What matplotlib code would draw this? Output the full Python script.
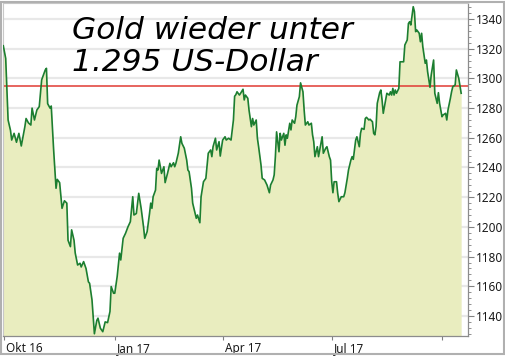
import numpy as np
import pandas as pd
import matplotlib
matplotlib.use('Agg')
import matplotlib.pyplot as plt
from matplotlib.ticker import MultipleLocator
from matplotlib.patches import Rectangle
import matplotlib.transforms as mtransforms

# Goldpreis in USD, Tage seit 1.10.2016
start = pd.Timestamp('2016-10-01')
days = [-1, 1, 3, 5, 6, 8, 10, 12, 14, 17, 18, 20, 22, 23, 25, 27, 29, 31, 34, 35,
        36, 38, 39, 41, 43, 44, 46, 48, 50, 52, 53, 55, 56, 58, 59, 61, 63, 64, 66, 68,
        70, 71, 73, 75, 77, 78, 80, 82, 84, 86, 88, 89, 91, 92, 94, 96, 97, 99, 101, 103,
        105, 107, 108, 110, 112, 114, 116, 117, 119, 121, 122, 123, 124, 126, 127, 128, 129, 131, 133, 134,
        136, 138, 139, 141, 142, 143, 145, 147, 148, 150, 152, 153, 154, 156, 157, 159, 160, 161, 163, 164,
        166, 168, 170, 172, 173, 174, 176, 177, 179, 180, 182, 184, 185, 187, 189, 191, 192, 193, 194, 196,
        197, 199, 200, 201, 203, 204, 206, 207, 208, 210, 211, 212, 214, 215, 217, 219, 221, 222, 224, 225,
        226, 227, 229, 230, 231, 233, 234, 235, 236, 238, 239, 240, 242, 243, 244, 246, 247, 249, 250, 251,
        253, 254, 256, 257, 258, 259, 261, 262, 264, 265, 266, 268, 269, 271, 272, 273, 274, 275, 277, 278,
        279, 281, 283, 284, 286, 287, 289, 290, 291, 293, 294, 296, 297, 298, 300, 301, 302, 304, 305, 307,
        308, 309, 310, 311, 313, 314, 315, 316, 318, 319, 321, 322, 323, 324, 325, 326, 327, 329, 330, 331,
        333, 334, 336, 337, 338, 339, 341, 342, 343, 344, 346, 347, 348, 349, 351, 352, 353, 355, 356, 358,
        359, 361, 362, 363, 365, 366, 368, 369, 370, 372, 373, 374, 376, 377, 379, 381]
gold = [1322, 1313.5, 1272, 1265, 1258.5, 1263, 1257, 1263, 1254.5, 1267.5, 1273, 1270, 1268.6, 1280, 1272, 1278.7, 1281, 1299, 1305.7, 1306.8,
        1283, 1280, 1281.4, 1251.8, 1226, 1232, 1229.8, 1212.5, 1217.6, 1216, 1191, 1186.7, 1198, 1191, 1182.4, 1174.3, 1175.5, 1173, 1176.6, 1172,
        1163, 1162, 1150.8, 1128, 1137, 1138.5, 1131.7, 1129.4, 1136, 1135.5, 1143, 1159.8, 1155.3, 1155.3, 1166.5, 1182.3, 1177.7, 1192.3, 1195.7, 1200,
        1203.5, 1220.3, 1208, 1209, 1222.6, 1212.5, 1200, 1192.3, 1196.8, 1209, 1216, 1212.5, 1220.3, 1224.8, 1239.4, 1238.3, 1245, 1236, 1240.5, 1229.8,
        1236, 1242.8, 1240.5, 1243.2, 1240.5, 1242.8, 1249.6, 1260.7, 1256.3, 1253, 1245, 1238.3, 1237.2, 1226, 1216, 1209, 1205.8, 1208, 1202.8, 1220.3,
        1230.4, 1232.7, 1249.6, 1251.8, 1247.3, 1254, 1259.7, 1251.8, 1257.4, 1247.7, 1258.5, 1260.7, 1258.5, 1259.7, 1258.5, 1272, 1288, 1289, 1291, 1288.8,
        1290, 1292.7, 1285.5, 1288.8, 1286.6, 1278.7, 1267.5, 1273, 1268.6, 1272, 1259.7, 1254, 1241.7, 1232.7, 1231.6, 1228.2, 1223, 1228.2, 1231.6, 1235,
        1247.3, 1264, 1250.6, 1263, 1258.5, 1263, 1255, 1262, 1259.7, 1269.8, 1265.3, 1272, 1269.8, 1274.2, 1282, 1287.7, 1297, 1291, 1278.7, 1268.6,
        1270.8, 1268.6, 1269.8, 1262, 1257.4, 1247.3, 1254, 1247.3, 1256.3, 1260.7, 1249.6, 1253, 1254, 1247.3, 1245, 1230.4, 1223, 1230.4, 1230.4, 1222.6,
        1217, 1220.3, 1220.3, 1223, 1232.7, 1238.3, 1245, 1247.3, 1245.5, 1258.5, 1260.7, 1254, 1263, 1266.4, 1265.7, 1273, 1273.8, 1272, 1272.5, 1270.8,
        1263, 1262, 1267.5, 1283.2, 1290.4, 1292.2, 1285.5, 1276.5, 1285.5, 1290, 1288.8, 1291, 1288.8, 1293.3, 1288.8, 1292.2, 1290, 1293.3, 1311.2, 1311.2,
        1311.2, 1322.5, 1325.9, 1337, 1338.2, 1336, 1348.3, 1345, 1331.5, 1332.6, 1330.4, 1324.7, 1330.4, 1321.3, 1310.2, 1312.4, 1304.5, 1294, 1302.3, 1312.4,
        1290, 1283.2, 1290.4, 1283.2, 1274.2, 1275.4, 1276.5, 1272, 1278.7, 1286.6, 1291, 1294.4, 1295.6, 1305.7, 1300, 1290]

tick_dates = ['2016-10-01', '2017-01-01', '2017-04-01', '2017-07-01', '2017-10-01']
tick_labels = ['Okt 16', 'Jan 17', 'Apr 17', 'Jul 17', '']
y_ticks = list(range(1140, 1341, 20))
level = 1295
title_lines = ['Gold wieder unter', '1.295 US-Dollar']

dates = start + pd.to_timedelta(days, unit='D')
y_lo, y_hi = 1126.5, 1350.8

fig = plt.figure(figsize=(5.06, 3.57), dpi=100)
ax = fig.add_axes([3/506, 21/357, 465/506, 333/357])

ax.fill_between(dates, gold, y_lo, color='#E9EDBF', lw=0, zorder=1)
ax.plot(dates, gold, color='#1C7E30', lw=1.2, zorder=3)
ax.axhline(level, color='#E03A33', lw=1.1, zorder=2)

ax.set_ylim(y_lo, y_hi)
ax.set_xlim(start - pd.Timedelta(days=1.25), start + pd.Timedelta(days=386.7))

ax.set_axisbelow(True)
ax.yaxis.grid(True, color='#E8E8E8', lw=1.6)
ax.xaxis.grid(False)

ax.yaxis.tick_right()
ax.set_yticks(y_ticks)
ax.yaxis.set_minor_locator(MultipleLocator(4))
ax.tick_params(axis='y', which='major', length=4, width=0.8, color='#808080', pad=2,
               labelsize=8.5, labelcolor='#1a1a1a')
ax.tick_params(axis='y', which='minor', length=2, width=0.6, color='#808080')

ax.set_xticks(pd.to_datetime(tick_dates))
ax.set_xticklabels(tick_labels, ha='left')
ax.tick_params(axis='x', length=3, width=0.8, color='#808080', pad=1,
               labelsize=8.5, labelcolor='#1a1a1a')
off = mtransforms.ScaledTranslation(2/100, 0, fig.dpi_scale_trans)
for lab in ax.get_xticklabels():
    lab.set_transform(lab.get_transform() + off)
    lab.set_family('Noto Sans')
for lab in ax.get_yticklabels():
    lab.set_family('Noto Sans')

for s in ['top', 'left']:
    ax.spines[s].set_color('#C8C8C8')
    ax.spines[s].set_linewidth(0.8)
for s in ['right', 'bottom']:
    ax.spines[s].set_color('#8C8C8C')
    ax.spines[s].set_linewidth(0.9)

fig.text(72/506, 1 - 39/357, title_lines[0], fontsize=22.5, family='DejaVu Sans',
         style='italic', color='black', va='baseline')
fig.text(72/506, 1 - 71/357, title_lines[1], fontsize=22.5, family='DejaVu Sans',
         style='italic', color='black', va='baseline')

fig.patches.append(Rectangle((1/506, 3/357), 503/506, 352/357, transform=fig.transFigure,
                             fill=False, edgecolor='#B0B0B0', lw=1.5))

fig.savefig('out.png', dpi=100)
